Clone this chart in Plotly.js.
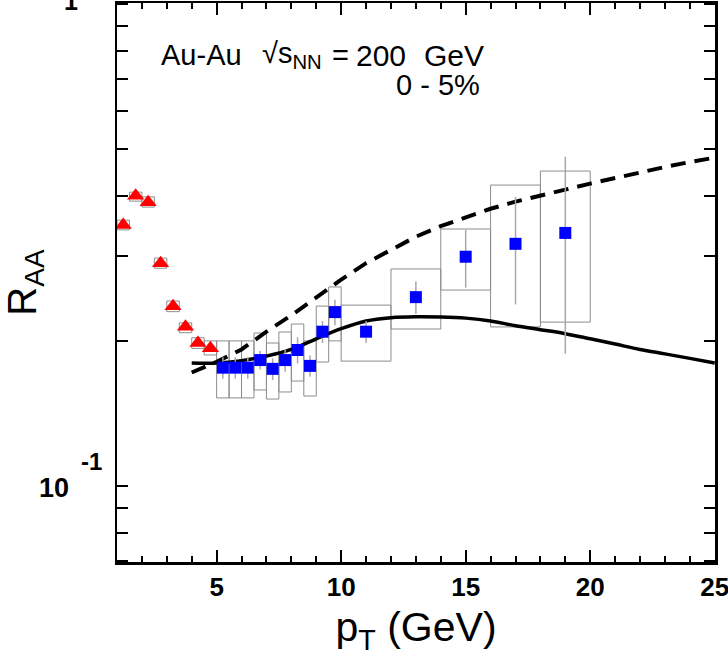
<!DOCTYPE html>
<html>
<head>
<meta charset="utf-8">
<script src="https://cdn.plot.ly/plotly-3.0.1.min.js"></script>
<style>
  body { margin: 0; background: #fff; }
  #plot { width: 728px; height: 664px; }
</style>
</head>
<body>
<div id="plot"></div>
<script>
// low pT points (red triangles) with their small systematic boxes
var triX = [1.25, 1.75, 2.25, 2.75, 3.25, 3.75, 4.25, 4.75];
var triY = [0.348, 0.400, 0.388, 0.290, 0.236, 0.214, 0.198, 0.193];
var triLo = [0.340, 0.390, 0.379, 0.283, 0.230, 0.208, 0.193, 0.187];
var triHi = [0.356, 0.407, 0.398, 0.297, 0.242, 0.218, 0.203, 0.200];
var triHalf = [0.25, 0.25, 0.25, 0.25, 0.25, 0.25, 0.25, 0.25];

// high pT points (blue squares), stat errors and systematic boxes
var sqX = [5.25, 5.75, 6.25, 6.75, 7.25, 7.75, 8.25, 8.75, 9.25, 9.75, 11, 13, 15, 17, 19];
var sqY = [0.176, 0.176, 0.176, 0.1825, 0.175, 0.1825, 0.1915, 0.1775, 0.209, 0.2295, 0.209, 0.2465, 0.299, 0.318, 0.335];
var sqErr = [0.009, 0.009, 0.009, 0.008, 0.009, 0.010, 0.012, 0.009, 0.011, 0.014, 0.011, 0.019, 0.041, 0.080, 0.147];
var sysLo = [0.1523, 0.1523, 0.1523, 0.1582, 0.1515, 0.1567, 0.1651, 0.1537, 0.1808, 0.200, 0.1816, 0.2117, 0.2550, 0.2138, 0.2188];
var sysHi = [0.200, 0.200, 0.200, 0.2077, 0.1980, 0.2087, 0.2168, 0.200, 0.2362, 0.2588, 0.2373, 0.2820, 0.3413, 0.4211, 0.4502];
var sqHalf = [0.25, 0.25, 0.25, 0.25, 0.25, 0.25, 0.25, 0.25, 0.25, 0.25, 1, 1, 1, 1, 1];

// model curves
var curveX = [4, 5, 6, 7, 8, 9, 10, 11, 12, 13, 14, 15, 16, 17, 18, 19, 20, 21, 22, 23, 24, 25];
var solidY = [0.180, 0.180, 0.182, 0.186, 0.192, 0.202, 0.212, 0.220, 0.2235, 0.2245, 0.2242, 0.223, 0.220, 0.215, 0.211, 0.207, 0.202, 0.197, 0.192, 0.188, 0.184, 0.180];
var dashY = [0.172, 0.181, 0.192, 0.209, 0.226, 0.246, 0.268, 0.290, 0.309, 0.329, 0.346, 0.361, 0.376, 0.389, 0.401, 0.412, 0.424, 0.436, 0.448, 0.459, 0.470, 0.480];

var xTickVals = [5, 10, 15, 20, 25];
var yTickVals = [0.07, 0.08, 0.09, 0.1, 0.2, 0.3, 0.4, 0.5, 0.6, 0.7, 0.8, 0.9, 1.0];

var FONT = 'Liberation Sans, Arial, Helvetica, sans-serif';

function boxPath(xs, half, lo, hi) {
	var px = [], py = [];
	for (var i = 0; i < xs.length; i++) {
		var a = xs[i] - half[i], b = xs[i] + half[i];
		px.push(a, b, b, a, a, null);
		py.push(lo[i], lo[i], hi[i], hi[i], lo[i], null);
	}
	return { x: px, y: py };
}

var triBox = boxPath(triX, triHalf, triLo, triHi);
var sqBox = boxPath(sqX, sqHalf, sysLo, sysHi);

var data = [
	{
		x: sqBox.x, y: sqBox.y, mode: 'lines', type: 'scatter',
		line: { color: '#8c8c8c', width: 1 }, hoverinfo: 'skip', showlegend: false
	},
	{
		x: triBox.x, y: triBox.y, mode: 'lines', type: 'scatter',
		line: { color: '#8c8c8c', width: 1 }, hoverinfo: 'skip', showlegend: false
	},
	{
		x: curveX, y: dashY, mode: 'lines', type: 'scatter',
		line: { color: 'black', width: 4, dash: '15px,9px' }, showlegend: false
	},
	{
		x: curveX, y: solidY, mode: 'lines', type: 'scatter',
		line: { color: 'black', width: 3.5, shape: 'spline' }, showlegend: false
	},
	{
		x: sqX, y: sqY, mode: 'markers', type: 'scatter',
		marker: { symbol: 'square', size: 12, color: '#0000ff' },
		error_y: { type: 'data', array: sqErr, visible: true, color: '#a8a8a8', thickness: 1.5, width: 0 },
		showlegend: false
	},
	{
		x: triX, y: triY, mode: 'markers', type: 'scatter',
		marker: { symbol: 'triangle-up', size: 15, color: '#ff0000' },
		showlegend: false
	}
];

function px2paper(px) { return (px - 117) / 598; }

// plain text labels inside the frame, placed by pixel column
function label(text, px, py, size) {
	return {
		text: text, xref: 'paper', yref: 'paper',
		x: px2paper(px), y: (562 - py) / 559, xanchor: 'left', yanchor: 'middle',
		showarrow: false, borderpad: 0, font: { family: FONT, size: size }
	};
}

var layout = {
	width: 728,
	height: 664,
	margin: { l: 117, r: 13, t: 3, b: 102 },
	paper_bgcolor: 'white',
	plot_bgcolor: 'white',
	showlegend: false,
	font: { family: FONT, color: 'black' },
	xaxis: {
		range: [1, 25.01],
		tickvals: xTickVals,
		ticks: 'inside', ticklen: 12, tickwidth: 2, tickcolor: 'black',
		minor: { dtick: 1, ticks: 'inside', ticklen: 6, tickwidth: 2, tickcolor: 'black' },
		showline: true, linewidth: 2.5, linecolor: 'black', mirror: 'ticks',
		showgrid: false, zeroline: false,
		tickfont: { family: FONT, size: 26, weight: 'bold' },
		ticklabelstandoff: 0,
		ticklabeloverflow: 'allow',
		title: { text: 'p<sub>T</sub> (GeV)', font: { family: FONT, size: 41 }, standoff: 12 }
	},
	yaxis: {
		type: 'log',
		range: [-1.1577, 0.0021],
		tickvals: yTickVals,
		showticklabels: false,
		ticks: 'inside', ticklen: 11, tickwidth: 2, tickcolor: 'black',
		showline: true, linewidth: 2.5, linecolor: 'black', mirror: 'ticks',
		showgrid: false, zeroline: false,
		title: { text: 'R<sub>AA</sub>', font: { family: FONT, size: 40 }, standoff: 75 }
	},
	annotations: [
		{ text: '10', xref: 'paper', yref: 'y', x: px2paper(71), y: -1, xanchor: 'right', yanchor: 'middle',
		  yshift: -2, showarrow: false, font: { family: FONT, size: 27, weight: 'bold' } },
		{ text: '-1', xref: 'paper', yref: 'y', x: px2paper(104), y: -1, xanchor: 'right', yanchor: 'middle',
		  yshift: 24, showarrow: false, font: { family: FONT, size: 24, weight: 'bold' } },
		{ text: '1', xref: 'paper', yref: 'y', x: px2paper(80), y: 0, xanchor: 'right', yanchor: 'middle',
		  yshift: 3, showarrow: false, font: { family: FONT, size: 25, weight: 'bold' } },
		label('Au-Au', 160, 55, 29),
		label('\u221As<sub>NN</sub>', 261, 55, 29),
		label('=', 331, 55, 29),
		label('200', 355, 55, 30),
		label('GeV', 423, 55, 30),
		label('0 - 5%', 395, 85, 29)
	]
};

Plotly.newPlot('plot', data, layout, { displayModeBar: false, staticPlot: true });
</script>
</body>
</html>
